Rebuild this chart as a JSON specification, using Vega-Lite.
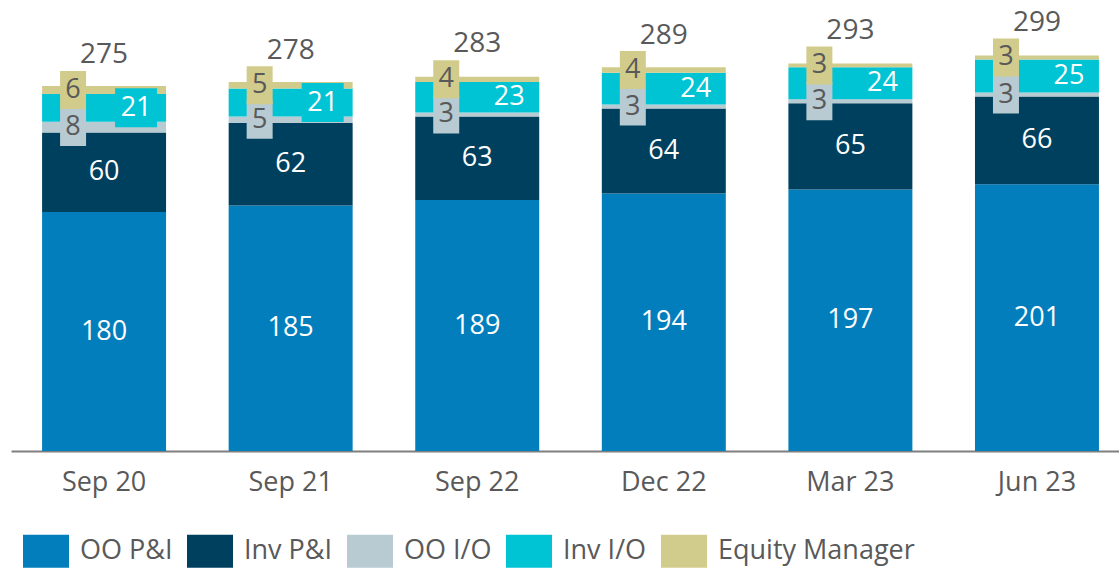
{
  "$schema": "https://vega.github.io/schema/vega-lite/v6.json",
  "width": 1108,
  "height": 450,
  "padding": {"left": 11, "top": 1, "right": 0, "bottom": 119},
  "autosize": {"type": "none"},
  "background": "white",
  "config": {"view": {"stroke": null}, "font": "Open Sans", "legend": {"padding": 0}},
  "datasets": {
    "segments": [
      {"period": "Sep 20", "series": "OO P&I", "value": 180, "ord": 1},
      {"period": "Sep 20", "series": "Inv P&I", "value": 60, "ord": 2},
      {"period": "Sep 20", "series": "OO I/O", "value": 8, "ord": 3},
      {"period": "Sep 20", "series": "Inv I/O", "value": 21, "ord": 4},
      {"period": "Sep 20", "series": "Equity Manager", "value": 6, "ord": 5},
      {"period": "Sep 21", "series": "OO P&I", "value": 185, "ord": 1},
      {"period": "Sep 21", "series": "Inv P&I", "value": 62, "ord": 2},
      {"period": "Sep 21", "series": "OO I/O", "value": 5, "ord": 3},
      {"period": "Sep 21", "series": "Inv I/O", "value": 21, "ord": 4},
      {"period": "Sep 21", "series": "Equity Manager", "value": 5, "ord": 5},
      {"period": "Sep 22", "series": "OO P&I", "value": 189, "ord": 1},
      {"period": "Sep 22", "series": "Inv P&I", "value": 63, "ord": 2},
      {"period": "Sep 22", "series": "OO I/O", "value": 3, "ord": 3},
      {"period": "Sep 22", "series": "Inv I/O", "value": 23, "ord": 4},
      {"period": "Sep 22", "series": "Equity Manager", "value": 4, "ord": 5},
      {"period": "Dec 22", "series": "OO P&I", "value": 194, "ord": 1},
      {"period": "Dec 22", "series": "Inv P&I", "value": 64, "ord": 2},
      {"period": "Dec 22", "series": "OO I/O", "value": 3, "ord": 3},
      {"period": "Dec 22", "series": "Inv I/O", "value": 24, "ord": 4},
      {"period": "Dec 22", "series": "Equity Manager", "value": 4, "ord": 5},
      {"period": "Mar 23", "series": "OO P&I", "value": 197, "ord": 1},
      {"period": "Mar 23", "series": "Inv P&I", "value": 65, "ord": 2},
      {"period": "Mar 23", "series": "OO I/O", "value": 3, "ord": 3},
      {"period": "Mar 23", "series": "Inv I/O", "value": 24, "ord": 4},
      {"period": "Mar 23", "series": "Equity Manager", "value": 3, "ord": 5},
      {"period": "Jun 23", "series": "OO P&I", "value": 201, "ord": 1},
      {"period": "Jun 23", "series": "Inv P&I", "value": 66, "ord": 2},
      {"period": "Jun 23", "series": "OO I/O", "value": 3, "ord": 3},
      {"period": "Jun 23", "series": "Inv I/O", "value": 25, "ord": 4},
      {"period": "Jun 23", "series": "Equity Manager", "value": 3, "ord": 5}
    ],
    "totals": [
      {"period": "Sep 20", "total": 275},
      {"period": "Sep 21", "total": 278},
      {"period": "Sep 22", "total": 283},
      {"period": "Dec 22", "total": 289},
      {"period": "Mar 23", "total": 293},
      {"period": "Jun 23", "total": 299}
    ]
  },
  "encoding": {
    "x": {
      "field": "period",
      "type": "nominal",
      "sort": ["Sep 20", "Sep 21", "Sep 22", "Dec 22", "Mar 23", "Jun 23"],
      "scale": {"paddingInner": 0.3355, "paddingOuter": 0.137, "align": 0.608, "round": false},
      "axis": {
        "title": null,
        "labelAngle": 0,
        "ticks": false,
        "domainColor": "#7f7f7f",
        "domainWidth": 2,
        "labelFontSize": 27,
        "labelColor": "#595959",
        "labelPadding": 18,
        "labelFont": "Open Sans"
      }
    }
  },
  "layer": [
    {
      "data": {"name": "segments"},
      "mark": {"type": "bar"},
      "encoding": {
        "y": {"field": "value", "type": "quantitative", "stack": "zero", "scale": {"domain": [0, 339], "nice": false, "zero": true}, "axis": null},
        "order": {"field": "ord", "type": "quantitative"},
        "color": {
          "field": "series",
          "type": "nominal",
          "scale": {
            "domain": ["OO P&I", "Inv P&I", "OO I/O", "Inv I/O", "Equity Manager"],
            "range": ["#037EBC", "#00405F", "#B8CAD2", "#00C4D4", "#D2CC8C"]
          },
          "legend": {
            "orient": "none",
            "legendX": 12,
            "legendY": 527,
            "direction": "horizontal",
            "title": null,
            "symbolType": "M-1,-0.717L1,-0.717L1,0.717L-1,0.717Z",
            "symbolSize": 2116,
            "symbolStrokeWidth": 0,
            "symbolOpacity": 1,
            "labelFontSize": 27,
            "labelFont": "Open Sans",
            "labelColor": "#595959",
            "labelOffset": 11,
            "columnPadding": 14,
            "labelLimit": 400
          }
        }
      }
    },
    {
      "data": {"name": "segments"},
      "transform": [
        {"stack": "value", "groupby": ["period"], "sort": [{"field": "ord", "order": "ascending"}], "as": ["y0", "y1"]},
        {"calculate": "(datum.y0 + datum.y1) / 2", "as": "mid"},
        {"filter": "datum.series === 'Inv I/O' && (datum.period === 'Sep 20' || datum.period === 'Sep 21')"}
      ],
      "mark": {"type": "point", "shape": "M-1,-0.929L1,-0.929L1,0.929L-1,0.929Z", "size": 1764, "filled": true, "opacity": 1, "strokeWidth": 0, "color": "#00C4D4", "xOffset": 32},
      "encoding": {
        "y": {"field": "mid", "type": "quantitative", "axis": null}
      }
    },
    {
      "data": {"name": "segments"},
      "transform": [
        {"stack": "value", "groupby": ["period"], "sort": [{"field": "ord", "order": "ascending"}], "as": ["y0", "y1"]},
        {"calculate": "(datum.y0 + datum.y1) / 2", "as": "mid"},
        {"filter": "datum.series === 'OO I/O'"}
      ],
      "mark": {"type": "point", "shape": "M-0.684,-1L0.684,-1L0.684,1L-0.684,1Z", "size": 1444, "filled": true, "opacity": 1, "strokeWidth": 0, "color": "#B8CAD2", "xOffset": -31},
      "encoding": {
        "y": {"field": "mid", "type": "quantitative", "axis": null}
      }
    },
    {
      "data": {"name": "segments"},
      "transform": [
        {"stack": "value", "groupby": ["period"], "sort": [{"field": "ord", "order": "ascending"}], "as": ["y0", "y1"]},
        {"calculate": "(datum.y0 + datum.y1) / 2", "as": "mid"},
        {"filter": "datum.series === 'Equity Manager'"}
      ],
      "mark": {"type": "point", "shape": "M-0.684,-1L0.684,-1L0.684,1L-0.684,1Z", "size": 1444, "filled": true, "opacity": 1, "strokeWidth": 0, "color": "#D2CC8C", "xOffset": -31},
      "encoding": {
        "y": {"field": "mid", "type": "quantitative", "axis": null}
      }
    },
    {
      "data": {"name": "segments"},
      "transform": [
        {"stack": "value", "groupby": ["period"], "sort": [{"field": "ord", "order": "ascending"}], "as": ["y0", "y1"]},
        {"calculate": "(datum.y0 + datum.y1) / 2", "as": "mid"},
        {"filter": "datum.series === 'OO P&I' || datum.series === 'Inv P&I'"}
      ],
      "mark": {"type": "text", "fontSize": 27, "font": "Open Sans", "color": "white", "baseline": "middle"},
      "encoding": {
        "y": {"field": "mid", "type": "quantitative", "axis": null},
        "text": {"field": "value", "type": "quantitative"}
      }
    },
    {
      "data": {"name": "segments"},
      "transform": [
        {"stack": "value", "groupby": ["period"], "sort": [{"field": "ord", "order": "ascending"}], "as": ["y0", "y1"]},
        {"calculate": "(datum.y0 + datum.y1) / 2", "as": "mid"},
        {"filter": "datum.series === 'Inv I/O'"}
      ],
      "mark": {"type": "text", "fontSize": 27, "font": "Open Sans", "color": "white", "baseline": "middle", "dx": 32},
      "encoding": {
        "y": {"field": "mid", "type": "quantitative", "axis": null},
        "text": {"field": "value", "type": "quantitative"}
      }
    },
    {
      "data": {"name": "segments"},
      "transform": [
        {"stack": "value", "groupby": ["period"], "sort": [{"field": "ord", "order": "ascending"}], "as": ["y0", "y1"]},
        {"calculate": "(datum.y0 + datum.y1) / 2", "as": "mid"},
        {"filter": "datum.series === 'OO I/O' || datum.series === 'Equity Manager'"}
      ],
      "mark": {"type": "text", "fontSize": 27, "font": "Open Sans", "color": "#595959", "baseline": "middle", "dx": -31},
      "encoding": {
        "y": {"field": "mid", "type": "quantitative", "axis": null},
        "text": {"field": "value", "type": "quantitative"}
      }
    },
    {
      "data": {"name": "totals"},
      "mark": {"type": "text", "fontSize": 28, "font": "Open Sans", "color": "#595959", "baseline": "alphabetic", "dy": -23},
      "encoding": {
        "y": {"field": "total", "type": "quantitative", "axis": null},
        "text": {"field": "total", "type": "quantitative"}
      }
    }
  ]
}
